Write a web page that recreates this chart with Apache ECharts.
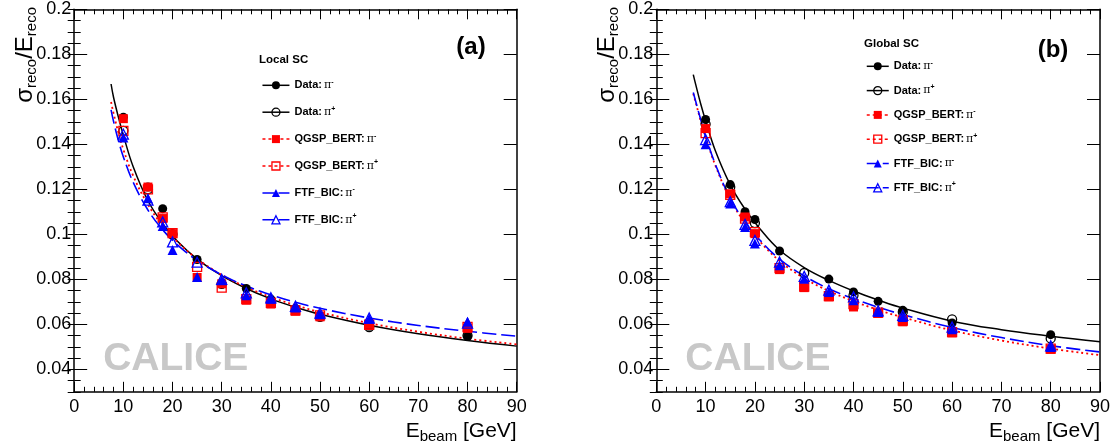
<!DOCTYPE html>
<html><head><meta charset="utf-8">
<script src="https://cdn.jsdelivr.net/npm/echarts@6/dist/echarts.min.js"></script>
<style>html,body{margin:0;padding:0;background:#fff}#c{width:1113px;height:446px}</style>
</head><body><div id="c"></div>
<script>
// ---------- data ----------
const energies = [10, 15, 18, 20, 25, 30, 35, 40, 45, 50, 60, 80];
const curveE = [7.5, 8, 9, 10, 12, 15, 18, 21, 25, 30, 35, 40, 45, 50, 60, 70, 80, 90];

// Panel (a) Local SC
const localDataPim = [0.1520, 0.1210, 0.1114, 0.1003, 0.0888, null, 0.0759, 0.0712, 0.0670, 0.0635, 0.0592, 0.0547];
const localDataPip = [0.1460, 0.1200, null, 0.1000, null, 0.0780, null, 0.0700, null, 0.0633, 0.0588, 0.0550];
const localQgspPim = [0.1514, 0.1210, 0.1070, 0.1003, 0.0808, 0.0780, 0.0707, 0.0690, 0.0658, 0.0633, 0.0600, 0.0582];
const localQgspPip = [0.1460, 0.1200, 0.1075, 0.1005, 0.0855, 0.0763, 0.0712, 0.0695, 0.0662, 0.0640, 0.0598, 0.0588];
const localFtfPim  = [0.1430, 0.1160, 0.1037, 0.0930, 0.0810, 0.0796, 0.0729, 0.0714, 0.0675, 0.0645, 0.0625, 0.0611];
const localFtfPip  = [0.1445, 0.1152, 0.1055, 0.0966, 0.0876, 0.0800, 0.0740, 0.0718, 0.0680, 0.0650, 0.0628, 0.0605];
const localFitData = [0.1668, 0.1609, 0.1520, 0.1440, 0.1300, 0.1149, 0.1047, 0.0969, 0.0890, 0.0816, 0.0759, 0.0713, 0.0676, 0.0645, 0.0596, 0.0558, 0.0528, 0.0503];
const localFitQgsp = [0.1588, 0.1538, 0.1451, 0.1377, 0.1260, 0.1132, 0.1038, 0.0966, 0.0891, 0.0820, 0.0765, 0.0721, 0.0685, 0.0654, 0.0605, 0.0567, 0.0536, 0.0511];
const localFitFtf  = [0.1553, 0.1502, 0.1416, 0.1344, 0.1231, 0.1108, 0.1020, 0.0953, 0.0884, 0.0820, 0.0770, 0.0731, 0.0698, 0.0671, 0.0628, 0.0595, 0.0569, 0.0547];

// Panel (b) Global SC
const globalDataPim = [0.1510, 0.1221, 0.1100, 0.1066, 0.0926, null, 0.0801, 0.0744, 0.0702, 0.0662, 0.0606, 0.0554];
const globalDataPip = [0.1490, 0.1210, null, 0.1050, null, 0.0828, null, 0.0729, null, 0.0655, 0.0622, 0.0537];
const globalQgspPim = [0.1470, 0.1180, 0.1077, 0.1003, 0.0843, 0.0763, 0.0722, 0.0677, 0.0648, 0.0611, 0.0562, 0.0489];
const globalQgspPip = [0.1450, 0.1175, 0.1070, 0.1010, 0.0850, 0.0768, 0.0725, 0.0690, 0.0652, 0.0617, 0.0565, 0.0492];
const globalFtfPim  = [0.1400, 0.1137, 0.1033, 0.0959, 0.0862, 0.0803, 0.0744, 0.0707, 0.0655, 0.0633, 0.0578, 0.0499];
const globalFtfPip  = [0.1421, 0.1145, 0.1044, 0.0973, 0.0877, 0.0813, 0.0752, 0.0722, 0.0660, 0.0640, 0.0588, 0.0504];
const globalFitData = [0.1710, 0.1665, 0.1580, 0.1505, 0.1370, 0.1220, 0.1112, 0.1025, 0.0930, 0.0852, 0.0795, 0.0748, 0.0708, 0.0672, 0.0614, 0.0576, 0.0547, 0.0522];
const globalFitQgsp = [0.1625, 0.1585, 0.1505, 0.1432, 0.1305, 0.1155, 0.1050, 0.0968, 0.0882, 0.0805, 0.0748, 0.0703, 0.0664, 0.0631, 0.0573, 0.0528, 0.0492, 0.0463];
const globalFitFtf  = [0.1630, 0.1590, 0.1510, 0.1435, 0.1310, 0.1160, 0.1055, 0.0975, 0.0890, 0.0815, 0.0758, 0.0714, 0.0676, 0.0643, 0.0586, 0.0541, 0.0505, 0.0477];

// ticks
const yTicks = [0.04, 0.06, 0.08, 0.1, 0.12, 0.14, 0.16, 0.18, 0.2];
const yMinorTicks = [0.03, 0.035, 0.04, 0.045, 0.05, 0.055, 0.06, 0.065, 0.07, 0.075, 0.08, 0.085, 0.09, 0.095, 0.1, 0.105, 0.11, 0.115, 0.12, 0.125, 0.13, 0.135, 0.14, 0.145, 0.15, 0.155, 0.16, 0.165, 0.17, 0.175, 0.18, 0.185, 0.19, 0.195, 0.2];
const xMin = 0, xMax = 90, xStep = 10;
const yMin = 0.03, yMax = 0.2;

const legendNames = ['Data: π-', 'Data: π+', 'QGSP_BERT: π-', 'QGSP_BERT: π+', 'FTF_BIC: π-', 'FTF_BIC: π+'];
const legendParts = {
  'Data: π-': ['Data:', '-'], 'Data: π+': ['Data:', '+'],
  'QGSP_BERT: π-': ['QGSP_BERT:', '-'], 'QGSP_BERT: π+': ['QGSP_BERT:', '+'],
  'FTF_BIC: π-': ['FTF_BIC:', '-'], 'FTF_BIC: π+': ['FTF_BIC:', '+']
};
const panelTitles = ['Local SC', 'Global SC'];
const panelTags = ['(a)', '(b)'];
const watermark = 'CALICE';

// ---------- styles ----------
const FONT = 'Liberation Sans, Arial, Helvetica, sans-serif';
const BLACK = '#000000', RED = '#ff0000', BLUE = '#0000ff';
const markerDefs = {
  'Data: π-':      {symbol: 'circle',   size: 9,  fill: BLACK, stroke: BLACK},
  'Data: π+':      {symbol: 'circle',   size: 9,  fill: 'rgba(0,0,0,0)', stroke: BLACK},
  'QGSP_BERT: π-': {symbol: 'rect',     size: 9,  fill: RED, stroke: RED},
  'QGSP_BERT: π+': {symbol: 'rect',     size: 9,  fill: 'rgba(0,0,0,0)', stroke: RED},
  'FTF_BIC: π-':   {symbol: 'triangle', size: 10, fill: BLUE, stroke: BLUE},
  'FTF_BIC: π+':   {symbol: 'triangle', size: 10, fill: 'rgba(0,0,0,0)', stroke: BLUE}
};
const lineDefs = {
  data: {color: BLACK, width: 1.5, type: 'solid'},
  qgsp: {color: RED, width: 1.8, type: [2, 3]},
  ftf:  {color: BLUE, width: 1.6, type: [14, 5]}
};
const legendLine = {
  'Data: π-': lineDefs.data, 'Data: π+': lineDefs.data,
  'QGSP_BERT: π-': {color: RED, width: 1.5, type: [3, 3]}, 'QGSP_BERT: π+': {color: RED, width: 1.5, type: [3, 3]},
  'FTF_BIC: π-': {color: BLUE, width: 1.5, type: [12, 4]}, 'FTF_BIC: π+': {color: BLUE, width: 1.5, type: [12, 4]}
};

function pts(xs, ys) { return xs.map((x, i) => [x, ys[i]]).filter(p => p[1] != null); }

const grids = [
  {left: 74.2, top: 9.3, width: 442.5, height: 382.5, outerBoundsMode: 'none', containLabel: false},
  {left: 656.3, top: 9.3, width: 443.7, height: 382.5, outerBoundsMode: 'none', containLabel: false}
];

const xAxes = [], yAxes = [];
for (let g = 0; g < 2; g++) {
  const lineSt = {show: true, onZero: false, lineStyle: {color: BLACK, width: 1.5}};
  ['bottom', 'top'].forEach((pos, k) => {
    xAxes.push({
      gridIndex: g, type: 'value', min: xMin, max: xMax, interval: xStep, position: pos,
      axisLine: lineSt,
      axisTick: {show: true, inside: true, length: 10, lineStyle: {color: BLACK, width: 1}},
      minorTick: {show: true, splitNumber: 5, length: 5, lineStyle: {color: BLACK, width: 1}},
      axisLabel: {show: k === 0, fontSize: 18, color: BLACK, margin: 6, fontFamily: FONT},
      splitLine: {show: false}, minorSplitLine: {show: false}
    });
  });
  ['left', 'right'].forEach((pos, k) => {
    yAxes.push({
      gridIndex: g, type: 'value', min: yMin, max: yMax, position: pos,
      axisLine: lineSt,
      axisTick: {show: true, inside: true, length: 13, customValues: yTicks, lineStyle: {color: BLACK, width: 1}},
      axisLabel: {show: k === 0, customValues: yTicks, fontSize: 18, color: BLACK, margin: 3, fontFamily: FONT},
      splitLine: {show: false}
    });
    yAxes.push({
      gridIndex: g, type: 'value', min: yMin, max: yMax, position: pos,
      axisLine: {show: false},
      axisTick: {show: true, inside: true, length: 6.5, customValues: yMinorTicks, lineStyle: {color: BLACK, width: 1}},
      axisLabel: {show: false},
      splitLine: {show: false}
    });
  });
}

const panels = [
  {markers: [localDataPim, localDataPip, localQgspPim, localQgspPip, localFtfPim, localFtfPip],
   fits: [localFitData, localFitQgsp, localFitFtf]},
  {markers: [globalDataPim, globalDataPip, globalQgspPim, globalQgspPip, globalFtfPim, globalFtfPip],
   fits: [globalFitData, globalFitQgsp, globalFitFtf]}
];

const series = [];
panels.forEach((p, g) => {
  const xi = g * 2, yi = g * 4;
  ['data', 'qgsp', 'ftf'].forEach((key, k) => {
    series.push({
      type: 'line', name: 'fit ' + key + ' ' + g, xAxisIndex: xi, yAxisIndex: yi,
      data: pts(curveE, p.fits[k]), smooth: 0.4, showSymbol: false, silent: true, z: 2,
      lineStyle: lineDefs[key]
    });
  });
  legendNames.forEach((name, k) => {
    const m = markerDefs[name];
    series.push({
      type: 'line', name: name, xAxisIndex: xi, yAxisIndex: yi,
      data: pts(energies, p.markers[k]), symbol: m.symbol, symbolSize: m.size, showSymbol: true,
      lineStyle: {width: 0, opacity: 0}, z: 3 + k * 0.01,
      itemStyle: {color: m.fill, borderColor: m.stroke, borderWidth: m.fill === m.stroke ? 0 : 1.3, opacity: 1}
    });
  });
});

function legendFor(left, top, itemWidth, gap) {
  return {
    orient: 'vertical', left: left, top: top, itemWidth: itemWidth, itemHeight: 10, itemGap: gap,
    selectedMode: false, padding: 0,
    data: legendNames.map(n => ({
      name: n,
      lineStyle: Object.assign({opacity: 1}, legendLine[n]),
      itemStyle: {color: markerDefs[n].fill, borderColor: markerDefs[n].stroke,
                  borderWidth: markerDefs[n].fill === markerDefs[n].stroke ? 0 : 1.3, opacity: 1}
    })),
    formatter: n => '{b|' + legendParts[n][0] + '}{p|π}{s|' + legendParts[n][1] + '}',
    textStyle: {
      rich: {
        b: {fontFamily: FONT, fontWeight: 'bold', fontSize: 11, color: BLACK, lineHeight: 14},
        p: {fontFamily: 'DejaVu Serif, Liberation Serif, serif', fontSize: 11, color: BLACK, lineHeight: 14, padding: [0, 0, 0, 2]},
        s: {fontFamily: FONT, fontWeight: 'bold', fontSize: 7, color: BLACK, lineHeight: 9, verticalAlign: 'top'}
      }
    }
  };
}

const axisRich = {
  m: {fontFamily: FONT, fontSize: 24, color: BLACK, lineHeight: 26},
  s: {fontFamily: FONT, fontSize: 15, color: BLACK, lineHeight: 15, padding: [13, 0, 0, 0]}
};
const xRich = {
  m: {fontFamily: FONT, fontSize: 21, color: BLACK, lineHeight: 24},
  s: {fontFamily: FONT, fontSize: 15, color: BLACK, lineHeight: 15, padding: [11, 0, 0, 0]}
};

const graphics = [];
[0, 582].forEach((dx, g) => {
  const gx = grids[g];
  graphics.push({
    type: 'text', x: 25 + dx, y: 7, rotation: Math.PI / 2, silent: true,
    style: {text: '{m|σ}{s|reco}{m|/E}{s|reco}', rich: axisRich, align: 'right', verticalAlign: 'middle',
            textAlign: 'right', textVerticalAlign: 'middle'}
  });
  graphics.push({
    type: 'text', x: gx.left + gx.width, y: 431, silent: true,
    style: {text: '{m|E}{s|beam}{m| [GeV]}', rich: xRich, align: 'right', verticalAlign: 'middle',
            textAlign: 'right', textVerticalAlign: 'middle'}
  });
  graphics.push({
    type: 'text', x: gx.left + 29, y: 359, silent: true, z: 0,
    style: {text: watermark, fontFamily: FONT, fontWeight: 'bold', fontSize: 39, fill: '#c8c8c8',
            align: 'left', verticalAlign: 'middle', textAlign: 'left', textVerticalAlign: 'middle'}
  });
  graphics.push({
    type: 'text', x: g === 0 ? 471 : 1053, y: g === 0 ? 47 : 50, silent: true,
    style: {text: panelTags[g], fontFamily: FONT, fontWeight: 'bold', fontSize: 24, fill: BLACK,
            align: 'center', verticalAlign: 'middle', textAlign: 'center', textVerticalAlign: 'middle'}
  });
  graphics.push({
    type: 'text', x: g === 0 ? 259 : 864, y: g === 0 ? 60 : 43.5, silent: true,
    style: {text: panelTitles[g], fontFamily: FONT, fontWeight: 'bold', fontSize: 11.5, fill: BLACK,
            align: 'left', verticalAlign: 'middle', textAlign: 'left', textVerticalAlign: 'middle'}
  });
});

const chart = echarts.init(document.getElementById('c'), null, {renderer: 'canvas'});
chart.setOption({
  animation: false,
  backgroundColor: '#ffffff',
  textStyle: {fontFamily: FONT},
  grid: grids,
  xAxis: xAxes,
  yAxis: yAxes,
  legend: [legendFor(261.7, 78.3, 27, 14.4), legendFor(866, 59.3, 22, 11.8)],
  series: series,
  graphic: graphics
});
</script></body></html>
